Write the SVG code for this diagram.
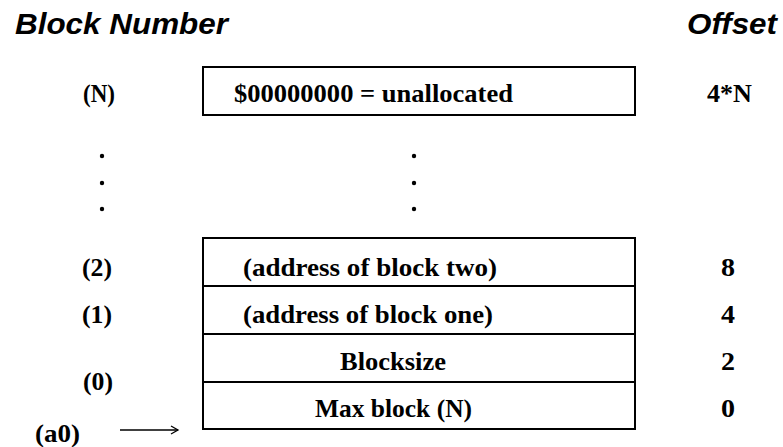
<svg xmlns="http://www.w3.org/2000/svg" width="783" height="447" viewBox="0 0 783 447">
<defs>
<style>
.title{font-family:"Liberation Sans",Arial,sans-serif;font-weight:bold;font-style:italic;font-size:29px;fill:#000}
.t{font-family:"Liberation Serif","Times New Roman",serif;font-weight:bold;font-size:25px;fill:#000}
.box{fill:#fff;stroke:#000;stroke-width:2}
.div{stroke:#000;stroke-width:2}
.conn{stroke:#000;stroke-width:1.5;fill:none}
.dot{fill:#000}
</style>
<marker id="arr" markerWidth="10" markerHeight="10" refX="8" refY="5" orient="auto" markerUnits="userSpaceOnUse">
<path d="M1,1 L8,5 L1,9" fill="none" stroke="#000" stroke-width="1.3"/>
</marker>
</defs>
<rect width="783" height="447" fill="#fff"/>
<g id="headers">
<text class="title" x="15" y="34" textLength="213" lengthAdjust="spacingAndGlyphs">Block Number</text>
<text class="title" x="687" y="34" textLength="90" lengthAdjust="spacingAndGlyphs">Offset</text>
</g>
<g id="block-N">
<rect class="box" x="203" y="67" width="432" height="48"/>
<text class="t" x="234" y="102" textLength="279" lengthAdjust="spacingAndGlyphs">$00000000 = unallocated</text>
<text class="t" x="83" y="102" textLength="32" lengthAdjust="spacingAndGlyphs">(N)</text>
<text class="t" x="707" y="102" textLength="45" lengthAdjust="spacingAndGlyphs">4*N</text>
</g>
<g id="ellipsis">
<circle class="dot" cx="102" cy="156" r="2.2"/>
<circle class="dot" cx="102" cy="183" r="2.2"/>
<circle class="dot" cx="102" cy="209" r="2.2"/>
<circle class="dot" cx="414" cy="156" r="2.2"/>
<circle class="dot" cx="414" cy="183" r="2.2"/>
<circle class="dot" cx="414" cy="209" r="2.2"/>
</g>
<g id="table">
<rect class="box" x="203" y="238" width="432" height="191"/>
<line class="div" x1="203" y1="286" x2="635" y2="286"/>
<line class="div" x1="203" y1="334" x2="635" y2="334"/>
<line class="div" x1="203" y1="382" x2="635" y2="382"/>
</g>
<g id="block-2">
<text class="t" x="82" y="276" textLength="30" lengthAdjust="spacingAndGlyphs">(2)</text>
<text class="t" x="243" y="276" textLength="254" lengthAdjust="spacingAndGlyphs">(address of block two)</text>
<text class="t" x="721" y="276" textLength="14" lengthAdjust="spacingAndGlyphs">8</text>
</g>
<g id="block-1">
<text class="t" x="82" y="323" textLength="30" lengthAdjust="spacingAndGlyphs">(1)</text>
<text class="t" x="243" y="323" textLength="250" lengthAdjust="spacingAndGlyphs">(address of block one)</text>
<text class="t" x="721" y="323" textLength="14" lengthAdjust="spacingAndGlyphs">4</text>
</g>
<g id="blocksize">
<text class="t" x="340" y="370" textLength="106" lengthAdjust="spacingAndGlyphs">Blocksize</text>
<text class="t" x="721" y="370" textLength="14" lengthAdjust="spacingAndGlyphs">2</text>
</g>
<g id="block-0">
<text class="t" x="83" y="390" textLength="30" lengthAdjust="spacingAndGlyphs">(0)</text>
<text class="t" x="315" y="417" textLength="157" lengthAdjust="spacingAndGlyphs">Max block (N)</text>
<text class="t" x="721" y="417" textLength="14" lengthAdjust="spacingAndGlyphs">0</text>
</g>
<g id="a0">
<text class="t" x="35" y="442" textLength="45" lengthAdjust="spacingAndGlyphs">(a0)</text>
</g>
<g id="connectors">
<line class="conn" x1="120" y1="430" x2="178" y2="430" marker-end="url(#arr)"/>
</g>
</svg>
